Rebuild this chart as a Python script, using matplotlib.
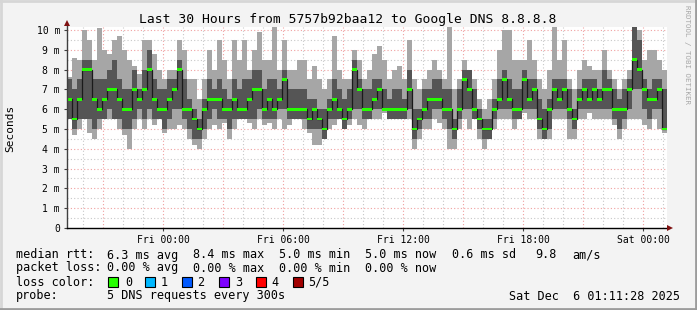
import numpy as np
import matplotlib
matplotlib.use('Agg')
import matplotlib.pyplot as plt
from matplotlib.patches import Rectangle
from matplotlib.lines import Line2D

plt.rcParams['font.family'] = ['DejaVu Sans Mono']

# ---- data (15-min bins, hours relative to Fri 00:00) ----
start_h = -4.81
bin_h = 0.25

med = [6.5, 5.5, 6.5, 8.0, 8.0, 6.5, 6.0, 6.5, 7.0, 7.0, 6.5, 6.0, 6.0, 7.0, 6.5, 7.0, 8.0, 6.5, 6.0, 6.0,
       6.5, 7.0, 8.0, 6.0, 6.0, 5.5, 5.0, 6.0, 6.5, 6.5, 6.5, 6.0, 6.0, 6.5, 6.0, 6.0, 6.5, 7.0, 7.0, 6.0,
       6.5, 6.0, 6.5, 7.5, 6.0, 6.0, 6.0, 6.0, 5.5, 6.0, 5.5, 5.0, 6.0, 6.5, 6.0, 5.5, 6.0, 8.0, 7.0, 6.0,
       6.0, 6.5, 7.0, 6.0, 6.0, 6.0, 6.0, 6.0, 7.0, 5.0, 5.5, 6.0, 6.5, 6.5, 6.5, 6.0, 6.0, 5.0, 6.0, 7.5,
       7.0, 6.0, 5.5, 5.0, 5.0, 6.0, 6.5, 7.5, 6.5, 6.0, 6.0, 7.5, 6.5, 7.0, 5.5, 5.0, 6.0, 7.0, 6.5, 7.0,
       6.0, 5.5, 6.5, 7.0, 6.5, 7.0, 6.5, 7.0, 7.0, 6.0, 6.0, 6.0, 7.0, 8.5, 8.0, 7.0, 6.5, 6.5, 7.0, 5.0]

hi = [7.6, 8.6, 8.5, 10.0, 9.5, 8.5, 10.1, 9.0, 8.8, 9.5, 9.7, 9.0, 8.5, 8.2, 7.8, 9.5, 9.5, 8.8, 8.0, 7.5,
      8.0, 8.0, 9.5, 9.0, 7.5, 7.5, 6.5, 7.5, 9.0, 8.0, 9.5, 8.5, 7.5, 9.5, 8.5, 9.5, 8.0, 9.0, 9.9, 8.5,
      8.5, 10.2, 8.0, 9.5, 8.0, 8.0, 8.5, 8.5, 7.5, 8.2, 7.5, 7.0, 7.5, 9.7, 8.0, 7.5, 7.5, 9.0, 8.5, 7.5,
      8.0, 8.8, 9.2, 8.5, 7.5, 8.0, 8.2, 7.5, 9.5, 7.5, 7.0, 7.5, 8.0, 8.5, 8.0, 7.5, 10.2, 7.0, 7.5, 8.5,
      8.0, 7.5, 6.5, 6.0, 6.5, 7.5, 9.0, 10.0, 10.0, 8.5, 8.5, 8.5, 9.5, 8.5, 7.5, 7.0, 8.0, 10.2, 8.5, 9.5,
      7.5, 7.0, 8.0, 8.5, 8.2, 8.0, 8.0, 9.0, 8.0, 7.5, 7.0, 7.5, 8.0, 10.2, 10.0, 8.5, 9.0, 9.0, 8.5, 8.0]

lo = [5.5, 4.7, 5.0, 5.5, 4.8, 4.5, 5.0, 5.5, 5.5, 5.5, 5.0, 4.7, 4.0, 5.0, 5.5, 5.0, 5.5, 5.2, 5.5, 4.8,
      5.0, 5.0, 5.2, 5.0, 4.5, 4.2, 4.0, 4.5, 5.0, 5.2, 5.0, 5.3, 4.5, 5.0, 5.5, 5.5, 5.3, 5.0, 5.5, 5.2,
      5.3, 5.0, 5.5, 5.0, 5.2, 5.5, 5.5, 5.0, 4.8, 4.2, 4.2, 4.5, 5.0, 5.2, 5.5, 5.0, 5.2, 5.5, 5.2, 5.0,
      5.5, 5.5, 5.5, 5.8, 5.5, 5.5, 5.5, 5.5, 5.5, 4.0, 4.5, 5.0, 5.0, 5.5, 5.3, 5.0, 4.0, 4.0, 5.0, 5.5,
      5.0, 5.5, 4.5, 4.0, 4.5, 5.0, 5.5, 5.5, 5.5, 5.0, 5.5, 5.8, 5.5, 5.5, 4.5, 4.5, 4.5, 5.5, 5.5, 5.5,
      4.5, 4.5, 5.5, 5.5, 5.8, 5.5, 5.5, 5.5, 5.5, 5.2, 4.5, 5.0, 5.5, 5.5, 5.5, 5.2, 5.0, 5.5, 5.0, 4.8]

q1 = [5.5, 5.0, 5.5, 5.5, 5.5, 5.0, 5.5, 5.5, 6.0, 5.5, 5.5, 5.0, 5.0, 5.5, 6.0, 5.5, 6.0, 5.5, 5.5, 5.0,
      5.5, 6.0, 6.0, 5.5, 5.0, 4.5, 4.5, 5.0, 5.5, 6.0, 5.5, 5.5, 5.0, 5.5, 5.5, 5.5, 5.5, 5.5, 6.0, 5.5,
      5.5, 5.5, 6.0, 6.0, 5.5, 5.5, 5.5, 5.5, 5.0, 5.0, 5.0, 4.5, 5.5, 5.5, 5.5, 5.0, 5.5, 6.0, 6.0, 5.5,
      5.5, 6.0, 6.0, 6.0, 5.5, 5.5, 5.5, 5.5, 6.0, 4.5, 5.0, 5.5, 5.5, 6.0, 6.0, 5.5, 5.0, 4.5, 5.5, 6.0,
      6.0, 5.5, 5.0, 4.5, 4.5, 5.5, 6.0, 6.0, 6.0, 5.5, 5.5, 6.0, 6.0, 6.0, 5.0, 4.5, 5.0, 6.0, 6.0, 6.0,
      5.5, 5.0, 6.0, 6.0, 6.0, 6.0, 6.0, 6.0, 6.0, 5.5, 5.0, 5.5, 6.0, 7.0, 7.0, 6.0, 5.5, 6.0, 6.0, 5.0]

q3 = [7.5, 7.0, 7.5, 8.5, 8.5, 7.5, 7.5, 7.5, 8.0, 8.5, 7.5, 7.0, 7.0, 8.0, 7.0, 8.0, 9.0, 7.5, 7.0, 7.0,
      7.5, 7.5, 8.5, 7.5, 6.5, 6.0, 5.5, 6.5, 7.5, 7.0, 7.5, 7.0, 6.5, 7.5, 7.0, 7.5, 7.5, 8.0, 8.0, 7.0,
      7.5, 7.5, 7.0, 8.0, 7.0, 7.0, 7.0, 7.0, 6.5, 6.5, 6.0, 6.0, 6.5, 7.5, 7.0, 6.5, 7.0, 8.5, 7.5, 7.0,
      7.0, 7.5, 7.5, 7.0, 6.5, 7.0, 7.0, 6.5, 8.0, 6.0, 6.0, 7.0, 7.0, 7.5, 7.5, 7.0, 7.0, 5.5, 7.0, 8.0,
      8.0, 7.0, 6.0, 5.5, 5.5, 6.5, 7.5, 8.0, 7.5, 7.0, 7.0, 8.0, 7.5, 7.5, 6.5, 6.0, 6.5, 7.5, 7.5, 7.5,
      7.0, 6.0, 7.0, 7.5, 7.5, 7.5, 7.0, 8.0, 7.5, 7.0, 6.5, 7.0, 7.5, 10.2, 9.5, 7.5, 7.0, 7.5, 7.5, 7.0]

xtick_pos = [0, 6, 12, 18, 24]
xtick_labels = ['Fri 00:00', 'Fri 06:00', 'Fri 12:00', 'Fri 18:00', 'Sat 00:00']
ytick_pos = [0, 1, 2, 3, 4, 5, 6, 7, 8, 9, 10]
ytick_labels = ['0', '1 m', '2 m', '3 m', '4 m', '5 m', '6 m', '7 m', '8 m', '9 m', '10 m']

loss_labels = ['0', '1', '2', '3', '4', '5/5']
loss_colors = ['#26ff00', '#00b8ff', '#0059ff', '#7e00ff', '#ff0000', '#a10000']

# ---- figure ----
W, H = 697, 310
fig = plt.figure(figsize=(W / 100, H / 100), dpi=100, facecolor='#f3f3f3')

def fx(px):
    return px / W

def fy(py):
    return 1 - py / H

ax = fig.add_axes([fx(67), fy(228), fx(667) - fx(67), fy(27) - fy(228)])
ax.set_facecolor('white')
x0, x1 = start_h, start_h + 30
ax.set_xlim(x0, x1)
ax.set_ylim(0, 10.15)
for s in ax.spines.values():
    s.set_visible(False)

# grid
for h in range(-4, 26):
    if h % 3 == 0:
        ax.axvline(h, color='#f0a0a0', lw=0.8, ls=(0, (1, 2)), zorder=0)
    else:
        ax.axvline(h, color='#c8c8c8', lw=0.8, ls=(0, (1, 2)), zorder=0)
for v in np.arange(0.5, 10.2, 0.5):
    if abs(v - round(v)) < 1e-6:
        ax.axhline(v, color='#f0a0a0', lw=0.8, ls=(0, (1, 2)), zorder=0)
    else:
        ax.axhline(v, color='#c8c8c8', lw=0.8, ls=(0, (1, 2)), zorder=0)

edges = start_h + bin_h * np.arange(len(med) + 1)
med_a = np.array(med)
ax.stairs(hi, edges, baseline=lo, fill=True, color='#a6a6a6', lw=0, zorder=2)
ax.stairs(q3, edges, baseline=q1, fill=True, color='#555555', lw=0, zorder=3)
ax.stairs(med, edges, baseline=None, color='#1a1a1a', lw=0.9, zorder=4)
ax.stairs(med_a + 0.07, edges, baseline=med_a - 0.07, fill=True, color='#26ff00', lw=0, zorder=5)

ax.set_xticks(xtick_pos)
ax.set_xticklabels(xtick_labels, fontsize=7)
ax.set_yticks(ytick_pos)
ax.set_yticklabels(ytick_labels, fontsize=7)
ax.tick_params(axis='both', length=2, width=0.8, color='#404040', pad=3)

# axis lines with arrows
fig.add_artist(Line2D([fx(67), fx(67)], [fy(228), fy(25)], color='#404040', lw=1))
fig.add_artist(Line2D([fx(67), fx(668)], [fy(228), fy(228)], color='#000000', lw=1))
fig.add_artist(Line2D([fx(67)], [fy(23)], marker='^', ms=5, color='#7f1010', mew=0))
fig.add_artist(Line2D([fx(670)], [fy(228)], marker='>', ms=5, color='#7f1010', mew=0))

# frame
fig.add_artist(Line2D([0, 1], [fy(1), fy(1)], color='#d6d6d6', lw=2))
fig.add_artist(Line2D([fx(1), fx(1)], [0, 1], color='#d6d6d6', lw=2))
fig.add_artist(Line2D([0, 1], [fy(309), fy(309)], color='#9c9c9c', lw=2))
fig.add_artist(Line2D([fx(696), fx(696)], [0, 1], color='#9c9c9c', lw=2))

# title and labels
fig.text(fx(348), fy(19), 'Last 30 Hours from 5757b92baa12 to Google DNS 8.8.8.8',
         ha='center', va='center', fontsize=9.4)
fig.text(fx(10), fy(128), 'Seconds', rotation=90, ha='center', va='center', fontsize=8)
fig.text(fx(687), fy(5), 'RRDTOOL / TOBI OETIKER', rotation=270, ha='center', va='top',
         fontsize=5.4, color='#a8a8a8')

fs = 8.5
def t(x, y, s, **kw):
    fig.text(fx(x), fy(y), s, ha='left', va='center', fontsize=fs, **kw)

row1 = [('median rtt:', 16), ('6.3 ms avg', 107), ('8.4 ms max', 193), ('5.0 ms min', 279),
        ('5.0 ms now', 365), ('0.6 ms sd', 452), ('9.8', 535), ('am/s', 572)]
row2 = [('packet loss:', 16), ('0.00 % avg', 107), ('0.00 % max', 193), ('0.00 % min', 279),
        ('0.00 % now', 365)]
for s, x in row1:
    t(x, 255, s)
for s, x in row2:
    t(x, 268, s)

t(16, 282, 'loss color:')
sq_x = [108, 145, 182, 219, 256, 293]
lab_x = [125, 161, 197, 235, 271, 308]
for c, lab, sx, lx in zip(loss_colors, loss_labels, sq_x, lab_x):
    fig.add_artist(Rectangle((fx(sx), fy(287)), fx(10), 10 / H, facecolor=c,
                             edgecolor='black', lw=0.8))
    t(lx, 282, lab)

t(16, 296, 'probe:')
t(107, 296, '5 DNS requests every 300s')
fig.text(fx(680), fy(296), 'Sat Dec  6 01:11:28 2025', ha='right', va='center', fontsize=fs)

fig.savefig('out.png', dpi=100, facecolor=fig.get_facecolor())
